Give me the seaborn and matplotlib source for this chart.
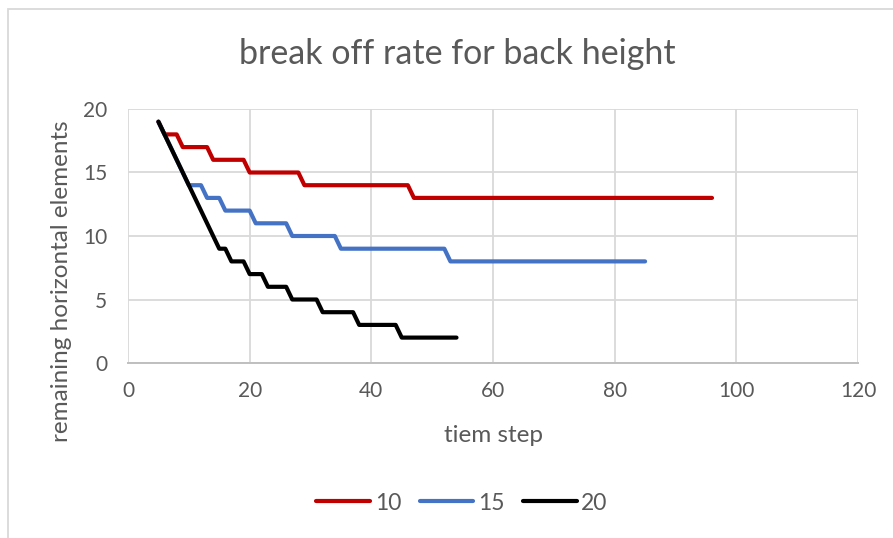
import matplotlib
matplotlib.use("Agg")
import matplotlib.pyplot as plt
import seaborn as sns
import pandas as pd
from matplotlib.patches import Rectangle

# Step-change points (time step, remaining horizontal elements) for each back height
red_t = [5, 6, 8, 9, 13, 14, 19, 20, 28, 29, 46, 47, 96]
red_v = [19, 18, 18, 17, 17, 16, 16, 15, 15, 14, 14, 13, 13]

blue_t = [5, 10, 12, 13, 15, 16, 20, 21, 26, 27, 34, 35, 52, 53, 85]
blue_v = [19, 14, 14, 13, 13, 12, 12, 11, 11, 10, 10, 9, 9, 8, 8]

black_t = [5, 15, 16, 17, 19, 20, 22, 23, 26, 27, 31, 32, 37, 38, 44, 45, 54]
black_v = [19, 9, 9, 8, 8, 7, 7, 6, 6, 5, 5, 4, 4, 3, 3, 2, 2]

series_names = ["10", "15", "20"]
series_colors = ["#C00000", "#4472C4", "#000000"]

x_ticks = [0, 20, 40, 60, 80, 100, 120]
y_ticks = [0, 5, 10, 15, 20]

title_text = "break off rate for back height"
x_label = "tiem step"
y_label = "remaining horizontal elements"

frames = []
for name, t, v in zip(series_names, [red_t, blue_t, black_t], [red_v, blue_v, black_v]):
    frames.append(pd.DataFrame({"time": t, "remaining": v, "series": name}))
df = pd.concat(frames, ignore_index=True)

sns.set_theme(style="white")
plt.rcParams["font.family"] = ["Lato", "DejaVu Sans"]

text_color = "#595959"
grid_color = "#d9d9d9"

W, H = 893, 538
fig = plt.figure(figsize=(W / 100, H / 100), dpi=100)
fig.patch.set_facecolor("white")

left, right, top, bottom = 128, 858, 109, 363
ax = fig.add_axes([left / W, 1 - bottom / H, (right - left) / W, (bottom - top) / H])

sns.lineplot(
    data=df, x="time", y="remaining", hue="series",
    palette=dict(zip(series_names, series_colors)),
    estimator=None, sort=False, linewidth=3.0, legend=False, ax=ax,
    solid_capstyle="round", solid_joinstyle="round",
)

ax.set_xlim(x_ticks[0], x_ticks[-1])
ax.set_ylim(y_ticks[0], y_ticks[-1])
ax.set_xticks(x_ticks)
ax.set_yticks(y_ticks)
ax.set_xticklabels([str(v) for v in x_ticks])
ax.set_yticklabels([str(v) for v in y_ticks])
ax.grid(True, color=grid_color, linewidth=1.3)
ax.set_axisbelow(True)
for side in ["top", "right", "left"]:
    ax.spines[side].set_visible(False)
ax.spines["bottom"].set_color("#bfbfbf")
ax.spines["bottom"].set_linewidth(1.4)
ax.tick_params(axis="both", length=0, labelsize=15, labelcolor=text_color)
ax.tick_params(axis="x", pad=13)
ax.tick_params(axis="y", pad=15)
ax.set_xlabel("")
ax.set_ylabel("")

fig.text(457 / W, 1 - 54 / H, title_text, ha="center", va="center",
         fontsize=24.5, color=text_color)
fig.text(493 / W, 1 - 435 / H, x_label, ha="center", va="center",
         fontsize=17.5, color=text_color)
fig.text(62 / W, 1 - 281 / H, y_label, ha="center", va="center",
         rotation=90, fontsize=17.5, color=text_color)

handles = ax.get_lines()[:3]
leg = fig.legend(handles, series_names, loc="center", bbox_to_anchor=(462 / W, 1 - 503 / H),
                 ncol=3, frameon=False, fontsize=16.5, handlelength=2.35,
                 handletextpad=0.2, columnspacing=0.8, labelcolor=text_color)

# chart-area border
fig.add_artist(Rectangle((8 / W, -0.2), 1.2, (H - 9) / H + 0.2, transform=fig.transFigure,
                         fill=False, edgecolor=grid_color, linewidth=1.3))

fig.savefig("out.png", dpi=100, facecolor="white")
